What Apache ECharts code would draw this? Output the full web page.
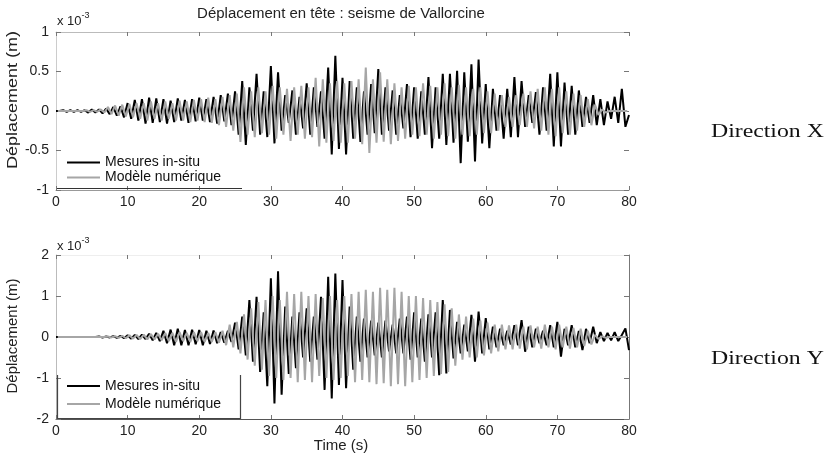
<!DOCTYPE html>
<html><head><meta charset="utf-8">
<script src="https://cdn.jsdelivr.net/npm/echarts@6/dist/echarts.min.js"></script>
<style>html,body{margin:0;padding:0;background:#fff}#c{width:834px;height:456px}</style>
</head><body><div id="c"></div>
<script>
// sampling: alternating peaks / troughs every 0.5 s (units: 1e-3 m)
const dt = 0.5;
const tStartMesures = 0;
const tStartModele = 0.25;
const xTicks = [0, 10, 20, 30, 40, 50, 60, 70, 80];
const yTicksX = [-1, -0.5, 0, 0.5, 1];
const yTicksY = [-2, -1, 0, 1, 2];

const mesuresX = [
  0,0, 0.01,-0.01, 0.01,-0.01, 0.01,-0.01, 0.01,-0.02, 0.02,-0.02, 0.02,-0.03, 0.03,-0.04, 0.05,-0.06, 0.06,-0.08,
  0.1,-0.1, 0.14,-0.12, 0.15,-0.16, 0.17,-0.15, 0.16,-0.14, 0.15,-0.16, 0.13,-0.14, 0.16,-0.12, 0.14,-0.15, 0.15,-0.13,
  0.17,-0.12, 0.15,-0.14, 0.18,-0.16, 0.2,-0.13, 0.22,-0.18, 0.25,-0.3, 0.38,-0.43, 0.3,-0.25, 0.47,-0.3, 0.25,-0.33,
  0.57,-0.41, 0.49,-0.25, 0.2,-0.15, 0.26,-0.3, 0.18,-0.22, 0.35,-0.3, 0.3,-0.2, 0.25,-0.35, 0.55,-0.55, 0.7,-0.48,
  0.42,-0.55, 0.38,-0.35, 0.3,-0.39, 0.25,-0.3, 0.34,-0.28, 0.53,-0.3, 0.3,-0.25, 0.26,-0.3, 0.2,-0.22, 0.34,-0.33,
  0.3,-0.35, 0.25,-0.3, 0.43,-0.47, 0.3,-0.35, 0.47,-0.43, 0.47,-0.4, 0.51,-0.66, 0.49,-0.39, 0.59,-0.64, 0.65,-0.41,
  0.34,-0.47, 0.28,-0.25, 0.2,-0.35, 0.28,-0.33, 0.43,-0.33, 0.38,-0.2, 0.2,-0.15, 0.24,-0.3, 0.3,-0.25, 0.47,-0.45,
  0.49,-0.45, 0.36,-0.3, 0.32,-0.3, 0.26,-0.2, 0.18,-0.15, 0.2,-0.18, 0.15,-0.18, 0.12,-0.1, 0.18,-0.15, 0.28,-0.2,
  -0.05
];
const modeleX = [
  0,0, 0,0, 0,0, 0,0, 0.01,-0.01, 0.01,-0.01, 0.02,-0.02, 0.05,-0.04, 0.07,-0.06, 0.08,-0.07,
  0.09,-0.08, 0.1,-0.1, 0.1,-0.12, 0.12,-0.1, 0.1,-0.12, 0.12,-0.1, 0.1,-0.12, 0.13,-0.12, 0.12,-0.14, 0.14,-0.12,
  0.15,-0.14, 0.17,-0.15, 0.15,-0.18, 0.18,-0.2, 0.2,-0.25, 0.22,-0.39, 0.3,-0.3, 0.25,-0.33, 0.3,-0.28, 0.25,-0.3,
  0.32,-0.35, 0.3,-0.3, 0.28,-0.38, 0.3,-0.3, 0.32,-0.35, 0.3,-0.33, 0.42,-0.45, 0.4,-0.4, 0.35,-0.38, 0.38,-0.4,
  0.35,-0.4, 0.38,-0.35, 0.4,-0.42, 0.55,-0.53, 0.4,-0.4, 0.49,-0.39, 0.4,-0.42, 0.35,-0.38, 0.3,-0.35, 0.32,-0.3,
  0.3,-0.32, 0.35,-0.3, 0.32,-0.35, 0.3,-0.3, 0.35,-0.32, 0.3,-0.35, 0.33,-0.3, 0.3,-0.32, 0.28,-0.3, 0.3,-0.28,
  0.25,-0.28, 0.22,-0.25, 0.2,-0.2, 0.18,-0.2, 0.2,-0.18, 0.22,-0.2, 0.25,-0.22, 0.28,-0.25, 0.3,-0.3, 0.28,-0.32,
  0.3,-0.28, 0.25,-0.3, 0.22,-0.25, 0.2,-0.2, 0.15,-0.18, 0.08,-0.05, 0.02,-0.02, 0,0, 0,0, 0,0
];
const mesuresY = [
  0,0, 0,0, 0,0, 0,0, 0,0, 0,0, 0.01,-0.01, 0.01,-0.01, 0.02,-0.02, 0.03,-0.03,
  0.04,-0.04, 0.05,-0.05, 0.06,-0.05, 0.08,-0.08, 0.1,-0.1, 0.15,-0.15, 0.18,-0.2, 0.2,-0.2, 0.17,-0.2, 0.18,-0.18,
  0.17,-0.2, 0.15,-0.17, 0.16,-0.15, 0.12,-0.14, 0.15,-0.12, 0.35,-0.3, 0.5,-0.45, 0.9,-0.6, 0.98,-0.85, 0.6,-1.2,
  1.43,-1.62, 1.6,-1.41, 0.74,-0.9, 0.5,-0.76, 0.6,-0.5, 0.7,-0.6, 0.5,-0.55, 0.98,-1.29, 1.47,-1.5, 1.55,-1.17,
  1.39,-1.25, 0.74,-0.8, 0.5,-0.6, 0.45,-0.5, 0.4,-0.45, 0.35,-0.5, 0.4,-0.35, 0.3,-0.4, 0.45,-0.4, 0.5,-0.55,
  0.6,-0.5, 0.45,-0.6, 0.55,-0.5, 0.6,-0.93, 0.9,-0.89, 0.66,-0.52, 0.37,-0.4, 0.3,-0.35, 0.54,-0.6, 0.62,-0.4,
  0.46,-0.3, 0.25,-0.25, 0.2,-0.2, 0.15,-0.18, 0.29,-0.2, 0.41,-0.36, 0.25,-0.25, 0.2,-0.15, 0.15,-0.2, 0.29,-0.25,
  0.37,-0.48, 0.2,-0.2, 0.29,-0.25, 0.15,-0.32, 0.2,-0.15, 0.25,-0.15, 0.12,-0.1, 0.1,-0.08, 0.12,-0.1, 0.05,0.21,
  -0.32
];
const modeleY = [
  0,0, 0,0, 0,0, 0,0, 0,0, 0,0, 0,0, 0.01,-0.01, 0.02,-0.02, 0.03,-0.03,
  0.04,-0.04, 0.05,-0.05, 0.06,-0.06, 0.07,-0.06, 0.08,-0.08, 0.1,-0.1, 0.1,-0.12, 0.12,-0.1, 0.1,-0.12, 0.12,-0.1,
  0.12,-0.12, 0.1,-0.12, 0.12,-0.14, 0.15,-0.2, 0.3,-0.25, 0.37,-0.4, 0.55,-0.55, 0.7,-0.7, 0.85,-0.8, 0.9,-0.95,
  1.0,-1.0, 0.9,-1.05, 1.1,-1.0, 1.05,-1.1, 1.1,-1.05, 1.0,-1.1, 1.05,-0.95, 0.95,-1.0, 1.0,-1.05, 0.9,-1.0,
  1.0,-0.95, 1.05,-1.1, 1.1,-1.05, 1.15,-1.1, 1.1,-1.15, 1.2,-1.13, 1.15,-1.2, 1.2,-1.15, 1.1,-1.2, 1.0,-1.1,
  1.0,-1.05, 0.95,-1.0, 0.9,-0.95, 0.85,-0.9, 0.8,-0.85, 0.7,-0.7, 0.55,-0.55, 0.5,-0.5, 0.45,-0.5, 0.4,-0.45,
  0.35,-0.4, 0.3,-0.35, 0.3,-0.3, 0.28,-0.3, 0.3,-0.28, 0.25,-0.3, 0.28,-0.25, 0.25,-0.28, 0.3,-0.25, 0.25,-0.3,
  0.3,-0.25, 0.25,-0.28, 0.22,-0.25, 0.2,-0.22, 0.15,-0.18, 0.05,-0.05, 0.02,-0.02, 0,0, 0,0, 0,0
];

const seriesNames = ['Mesures in-situ', 'Modèle numérique'];
const colMes = '#000000', colMod = '#a6a6a6';
const FONT = "'Liberation Sans', Arial, sans-serif";
const SERIF = "'Liberation Serif', 'Times New Roman', serif";

function pairs(vals, t0) { return vals.map((v, i) => [t0 + i * dt, v]); }

const chart = echarts.init(document.getElementById('c'), null, {renderer: 'canvas'});

function xAx(grid, pos, labels, lineColor) {
  return {
    type: 'value', gridIndex: grid, position: pos, min: xTicks[0], max: xTicks[xTicks.length - 1], interval: 10,
    axisLine: {show: true, onZero: false, lineStyle: {color: lineColor, width: 1}},
    axisTick: {show: true, inside: true, length: 4, lineStyle: {color: '#777'}},
    axisLabel: {show: labels, fontSize: 14, color: '#222', fontFamily: FONT, margin: 5},
    splitLine: {show: false}
  };
}
function yAx(grid, pos, ticks, labels, lineColor, showLine) {
  return {
    type: 'value', gridIndex: grid, position: pos, min: ticks[0], max: ticks[ticks.length - 1],
    interval: ticks[1] - ticks[0],
    axisLine: {show: showLine, onZero: false, lineStyle: {color: lineColor, width: 1}},
    axisTick: {show: true, inside: true, length: 5, lineStyle: {color: '#777'}},
    axisLabel: {show: labels, fontSize: 14, color: '#222', fontFamily: FONT, margin: 7},
    splitLine: {show: false}
  };
}

const lineSeries = (name, data, xi, yi, color) => ({
  name, type: 'line', data, xAxisIndex: xi, yAxisIndex: yi, symbol: 'none', showSymbol: false,
  lineStyle: {color, width: 2}, itemStyle: {color}, animation: false, silent: true, z: 2
});

const legendCommon = {
  data: seriesNames, orient: 'vertical', left: 67, padding: 0, itemWidth: 33, itemHeight: 2, icon: 'rect',
  selectedMode: false
};

const option = {
  backgroundColor: '#fff',
  animation: false,
  grid: [
    {left: 56, top: 32, width: 573, height: 158},
    {left: 56, top: 255, width: 573, height: 164}
  ],
  xAxis: [
    xAx(0, 'bottom', true, '#999'),
    xAx(0, 'top', false, '#bbb'),
    xAx(1, 'bottom', true, '#555'),
    xAx(1, 'top', false, '#eee')
  ],
  yAxis: [
    yAx(0, 'left', yTicksX, true, '#ccc', true),
    yAx(0, 'right', yTicksX, false, '#eee', false),
    yAx(1, 'left', yTicksY, true, '#bbb', true),
    yAx(1, 'right', yTicksY, false, '#777', true)
  ],
  legend: [
    Object.assign({}, legendCommon, {top: 155, itemGap: 0,
      textStyle: {fontSize: 14, color: '#111', fontFamily: FONT, lineHeight: 15}}),
    Object.assign({}, legendCommon, {top: 378, itemGap: 2,
      textStyle: {fontSize: 14, color: '#111', fontFamily: FONT, lineHeight: 16}})
  ],
  series: [
    lineSeries(seriesNames[0], pairs(mesuresX, tStartMesures), 0, 0, colMes),
    lineSeries(seriesNames[1], pairs(modeleX, tStartModele), 0, 0, colMod),
    lineSeries(seriesNames[0], pairs(mesuresY, tStartMesures), 2, 2, colMes),
    lineSeries(seriesNames[1], pairs(modeleY, tStartModele), 2, 2, colMod)
  ],
  graphic: [
    {type: 'text', x: 341, y: 14, scaleX: 1.07, style: {text: 'Déplacement en tête : seisme de Vallorcine', fontSize: 14, fontFamily: FONT, fill: '#222', align: 'center', verticalAlign: 'middle'}},
    {type: 'text', x: 57, y: 21, style: {text: '{a|x 10}{b|-3}', align: 'left', verticalAlign: 'middle',
      rich: {a: {fontSize: 13, fontFamily: FONT, fill: '#222'}, b: {fontSize: 9, fontFamily: FONT, fill: '#222', verticalAlign: 'top', padding: [0, 0, 10, 0]}}}},
    {type: 'text', x: 57, y: 246, style: {text: '{a|x 10}{b|-3}', align: 'left', verticalAlign: 'middle',
      rich: {a: {fontSize: 13, fontFamily: FONT, fill: '#222'}, b: {fontSize: 9, fontFamily: FONT, fill: '#222', verticalAlign: 'top', padding: [0, 0, 10, 0]}}}},
    {type: 'text', x: 13, y: 100, rotation: Math.PI / 2, scaleX: 1.2, style: {text: 'Déplacement (m)', fontSize: 15, fontFamily: FONT, fill: '#222', align: 'center', verticalAlign: 'middle'}},
    {type: 'text', x: 13, y: 336, rotation: Math.PI / 2, style: {text: 'Déplacement (m)', fontSize: 15, fontFamily: FONT, fill: '#222', align: 'center', verticalAlign: 'middle'}},
    {type: 'text', x: 341, y: 446, style: {text: 'Time (s)', fontSize: 15, fontFamily: FONT, fill: '#222', align: 'center', verticalAlign: 'middle'}},
    {type: 'text', x: 711, y: 132, scaleX: 1.25, style: {text: 'Direction X', fontSize: 19, fontFamily: SERIF, fill: '#111', align: 'left', verticalAlign: 'middle'}},
    {type: 'text', x: 711, y: 359, scaleX: 1.25, style: {text: 'Direction Y', fontSize: 19, fontFamily: SERIF, fill: '#111', align: 'left', verticalAlign: 'middle'}},
    {type: 'polyline', shape: {points: [[57, 188.5], [242, 188.5]]}, style: {stroke: '#333', lineWidth: 1.2, fill: null}, z: 10},
    {type: 'polyline', shape: {points: [[57.5, 375], [57.5, 418.5], [240.5, 418.5], [240.5, 375]]}, style: {stroke: '#444', lineWidth: 1.2, fill: null}, z: 10}
  ]
};
chart.setOption(option);
</script></body></html>
